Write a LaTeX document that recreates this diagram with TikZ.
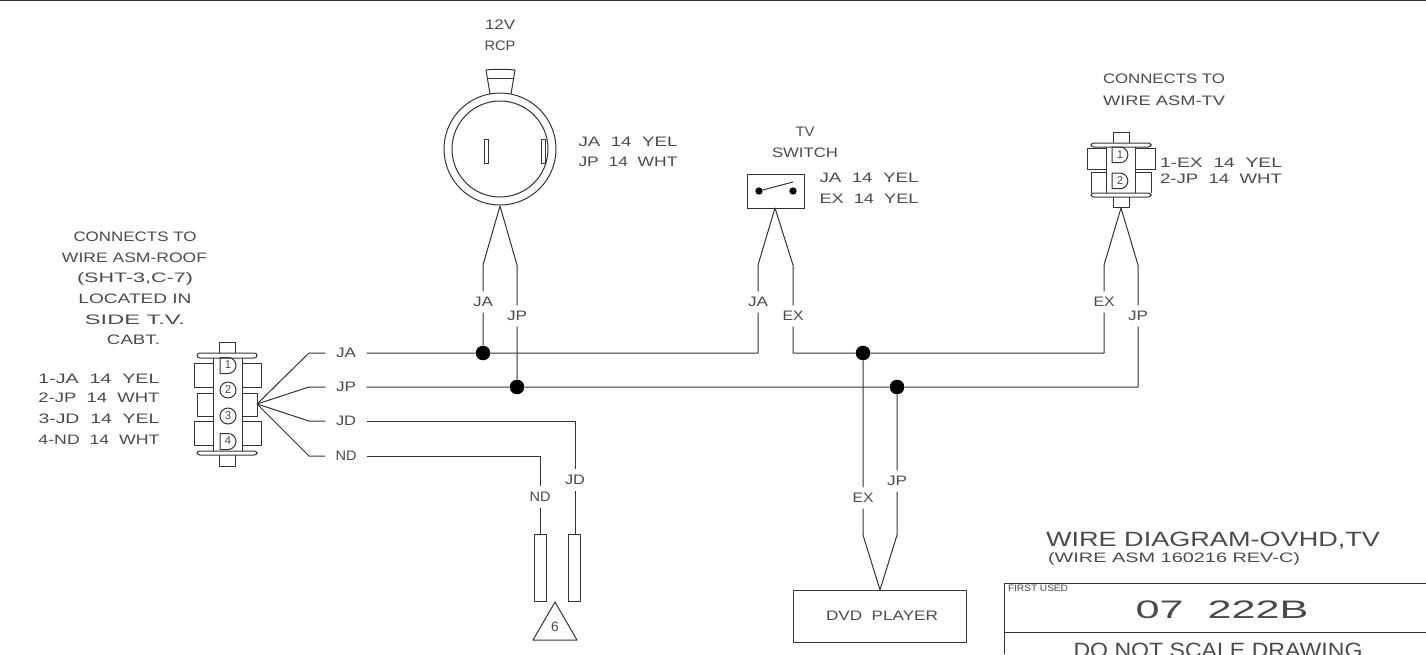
\documentclass[tikz,border=0pt]{standalone}
\usepackage{fontspec}
\usepackage{graphicx}
\setmainfont{Liberation Sans}
\newdimen\pxu \pxu=0.75pt
\newcommand\tw[2]{\resizebox{#1\pxu}{\height}{#2}}
\definecolor{ink}{HTML}{333333}
\definecolor{txt}{HTML}{4a4a4a}
\tikzset{
  wire/.style={draw=ink,line width=0.75pt,line join=round},
  part/.style={draw=ink,line width=0.75pt,line join=round},
  lab/.style={inner sep=0pt,text=txt,font=\fontsize{10.3pt}{12pt}\selectfont,anchor=center},
  wlab/.style={lab,outer xsep=8pt,outer ysep=4.4pt},
  dot/.style={circle,fill=black,draw=black,inner sep=0pt,minimum size=10.5pt},
  pin/.style={circle,draw=ink,line width=0.75pt,inner sep=0pt,minimum size=12pt,text=txt,font=\fontsize{8.5pt}{9pt}\selectfont},
  num/.style={inner sep=0pt,text=txt,font=\fontsize{8.5pt}{9pt}\selectfont},
}
\begin{document}
\begin{tikzpicture}[x=0.75pt,y=-0.75pt]
\useasboundingbox (0,0) rectangle (1426,654);
\clip (0,0) rectangle (1426,654);
\coordinate (tl) at (0,0.8); \coordinate (tr) at (1426,0.8);
\draw[wire] (tl) -- (tr);

% ---- left connector
\draw[part,rounded corners=2pt] (197,353) rectangle (257,358);
\draw[part,rounded corners=2pt] (197,451) rectangle (257,455);
\draw[part] (219,353) -- (219,342) -- (235,342) -- (235,353);
\draw[part] (219,455) -- (219,466) -- (235,466) -- (235,455);
\draw[part] (213,358) -- (213,451);
\draw[part] (242,358) -- (242,451);
\draw[part] (213,363) -- (194,363) -- (194,387) -- (213,387);
\draw[part] (213,393) -- (197,393) -- (197,416) -- (213,416);
\draw[part] (213,421) -- (194,421) -- (194,445) -- (213,445);
\draw[part] (242,363) -- (261,363) -- (261,387) -- (242,387);
\draw[part] (242,393) -- (257,393) -- (257,416) -- (242,416);
\draw[part] (242,421) -- (261,421) -- (261,445) -- (242,445);
\draw[part] (220,357.5) -- (228,357.5) arc[start angle=90,end angle=-90,radius=6pt] -- (220,373.5) -- cycle;
\node[num] (n1) at (228,365) {1};
\node[pin] (p2) at (228,390) {2};
\node[pin] (p3) at (228,416) {3};
\draw[part] (220,433.5) -- (228,433.5) arc[start angle=90,end angle=-90,radius=6pt] -- (220,449.5) -- cycle;
\node[num] (n4) at (228,441) {4};

\coordinate (fan) at (257,404);
\coordinate (ja0) at (309,353);
\coordinate (jp0) at (309,387);
\coordinate (jd0) at (309,421);
\coordinate (nd0) at (309,456);
\node[wlab] (lJA) at (346,353) {\tw{20}{JA}};
\node[wlab] (lJP) at (346,387) {\tw{20}{JP}};
\node[wlab] (lJD) at (346,421) {\tw{20}{JD}};
\node[wlab] (lND) at (346,456) {\tw{21}{ND}};
\draw[wire] (fan) -- (ja0) -- (lJA);
\draw[wire] (fan) -- (jp0) -- (lJP);
\draw[wire] (fan) -- (jd0) -- (lJD);
\draw[wire] (fan) -- (nd0) -- (lND);

% left texts
\node[lab] (c1) at (135,237) {\tw{123}{CONNECTS TO}};
\node[lab] (c2) at (134.5,258) {\tw{145}{WIRE ASM-ROOF}};
\node[lab] (c3) at (135,279) {\tw{116}{(SHT-3,C-7)}};
\node[lab] (c4) at (135,299) {\tw{113}{LOCATED IN}};
\node[lab] (c5) at (135,320) {\tw{100}{SIDE T.V.}};
\node[lab] (c6) at (133.5,340) {\tw{53}{CABT.}};
\node[lab] (t1) at (99,379) {\tw{121}{1-JA\ \ 14\ \ YEL}};
\node[lab] (t2) at (99,398) {\tw{121}{2-JP\ \ 14\ \ WHT}};
\node[lab] (t3) at (99,419) {\tw{121}{3-JD\ \ 14\ \ YEL}};
\node[lab] (t4) at (99,440) {\tw{121}{4-ND\ \ 14\ \ WHT}};

% ---- RCP
\node[circle,draw=ink,line width=0.75pt,minimum size=84pt,inner sep=0pt] (rcp) at (500,149) {};
\node[circle,draw=ink,line width=0.75pt,minimum size=72pt,inner sep=0pt] (rcpi) at (500,149) {};
\draw[part] (490,94) -- (486,70) .. controls (495,69) and (505,69) .. (515,70) -- (511,94);
\draw[part] (488,78) -- (513,78);
\draw[part] (484,139) rectangle (488,163);
\draw[part] (541,139) rectangle (545,163);
\node[lab] (r1) at (500,25) {\tw{30}{12V}};
\node[lab] (r2) at (500,46) {\tw{31}{RCP}};
\node[lab] (r3) at (628,142) {\tw{99}{JA\ \ 14\ \ YEL}};
\node[lab] (r4) at (628,162) {\tw{99}{JP\ \ 14\ \ WHT}};

% ---- TV switch
\node[draw=ink,line width=0.75pt,minimum width=42.75pt,minimum height=25.5pt,inner sep=0pt] (sw) at (775.5,191) {};
\node[circle,fill=black,inner sep=0pt,minimum size=5.5pt] (sa) at (759,191) {};
\node[circle,fill=black,inner sep=0pt,minimum size=5.5pt] (sb) at (793,191) {};
\coordinate (sc) at (793,182);
\draw[part] (sa) -- (sc);
\node[lab] (s1) at (805,132) {\tw{19}{TV}};
\node[lab] (s2) at (805,153) {\tw{66}{SWITCH}};
\node[lab] (s3) at (869,178) {\tw{99}{JA\ \ 14\ \ YEL}};
\node[lab] (s4) at (869,199) {\tw{99}{EX\ \ 14\ \ YEL}};

% ---- right connector
\draw[part,rounded corners=2pt] (1091,143) rectangle (1151,147);
\draw[part,rounded corners=2pt] (1091,193) rectangle (1151,197);
\draw[part] (1113,143) -- (1113,132) -- (1129,132) -- (1129,143);
\draw[part] (1113,197) -- (1113,207) -- (1129,207) -- (1129,197);
\draw[part] (1106,147) -- (1106,193);
\draw[part] (1135,147) -- (1135,193);
\draw[part] (1106,148) -- (1087,148) -- (1087,169) -- (1106,169);
\draw[part] (1106,172) -- (1091,172) -- (1091,193);
\draw[part] (1135,148) -- (1155,148) -- (1155,169) -- (1135,169);
\draw[part] (1135,172) -- (1151,172) -- (1151,193);
\draw[part] (1112,147) -- (1120,147) arc[start angle=90,end angle=-90,radius=5.9pt] -- (1112,162.7) -- cycle;
\node[num] (e1) at (1120,155) {1};
\draw[part] (1112,173) -- (1120,173) arc[start angle=90,end angle=-90,radius=5.9pt] -- (1112,188.7) -- cycle;
\node[num] (e2) at (1120,181) {2};
\node[lab] (x1) at (1221,163) {\tw{122}{1-EX\ \ 14\ \ YEL}};
\node[lab] (x2) at (1221,179) {\tw{122}{2-JP\ \ 14\ \ WHT}};
\node[lab] (x3) at (1164,79) {\tw{122}{CONNECTS TO}};
\node[lab] (x4) at (1164,101) {\tw{122}{WIRE ASM-TV}};

% ---- junctions
\node[dot] (d1) at (483,353) {};
\node[dot] (d2) at (517,387) {};
\node[dot] (d3) at (863,353) {};
\node[dot] (d4) at (897,387) {};

% RCP wires
\coordinate (ra) at (500,206);
\coordinate (ra1) at (483,265);
\coordinate (ra2) at (517,265);
\node[wlab] (wJA1) at (483,302) {\tw{20}{JA}};
\node[wlab] (wJP1) at (517,316) {\tw{20}{JP}};
\draw[wire] (d1) -- (wJA1) -- (ra1) -- (ra) -- (ra2) -- (wJP1) -- (d2);

% switch wires
\coordinate (sw0) at (775,208);
\coordinate (sw1) at (758,265);
\coordinate (sw2) at (793,265);
\coordinate (sw3) at (758,353);
\coordinate (sw4) at (793,353);
\node[wlab] (wJA2) at (758,302) {\tw{20}{JA}};
\node[wlab] (wEX2) at (793,316) {\tw{21}{EX}};
\draw[wire] (lJA) -- (d1) -- (sw3) -- (wJA2) -- (sw1) -- (sw0) -- (sw2) -- (wEX2) -- (sw4) -- (d3);

% right connector wires
\coordinate (rc0) at (1121,208);
\coordinate (rc1) at (1104,265);
\coordinate (rc2) at (1138,265);
\coordinate (rc3) at (1104,353);
\coordinate (rc4) at (1138,387);
\node[wlab] (wEX3) at (1104,302) {\tw{21}{EX}};
\node[wlab] (wJP3) at (1138,316) {\tw{20}{JP}};
\draw[wire] (d3) -- (rc3) -- (wEX3) -- (rc1) -- (rc0) -- (rc2) -- (wJP3) -- (rc4) -- (d4) -- (d2) -- (lJP);

% DVD
\node[draw=ink,line width=0.75pt,minimum width=129.75pt,minimum height=39pt,inner sep=0pt] (dvd) at (879.5,616) {};
\node[lab] (dvdt) at (882,616) {\tw{112}{DVD\ \ PLAYER}};
\coordinate (dv0) at (880,590);
\coordinate (dv1) at (863,535);
\coordinate (dv2) at (897,535);
\node[wlab] (wEX4) at (863,498) {\tw{21}{EX}};
\node[wlab] (wJP4) at (897,481) {\tw{20}{JP}};
\draw[wire] (d3) -- (wEX4) -- (dv1) -- (dv0) -- (dv2) -- (wJP4) -- (d4);

% JD / ND
\node[part,draw,minimum width=9pt,minimum height=50.5pt,inner sep=0pt] (bN) at (540,568) {};
\node[part,draw,minimum width=9pt,minimum height=50.5pt,inner sep=0pt] (bD) at (574.5,568) {};
\coordinate (jd1) at (575,421);
\coordinate (nd1) at (540,456);
\node[wlab] (wJD) at (575,480) {\tw{20}{JD}};
\node[wlab] (wND) at (540,497) {\tw{21}{ND}};
\draw[wire] (lJD) -- (jd1) -- (wJD) -- (bD.north -| wJD);
\draw[wire] (lND) -- (nd1) -- (wND) -- (bN.north -| wND);
\coordinate (g1) at (555,602);
\coordinate (g2) at (533,640);
\coordinate (g3) at (577,640);
\draw[part] (g1) -- (g2) -- (g3) -- cycle;
\node[num,font=\fontsize{10.3pt}{12pt}\selectfont] (g6) at (555,627) {6};

% title block
\node[lab,font=\fontsize{15.5pt}{17pt}\selectfont] (ti1) at (1213,541) {\tw{334}{WIRE DIAGRAM-OVHD,TV}};
\node[lab] (ti2) at (1174,559) {\tw{252}{(WIRE ASM 160216 REV-C)}};
\coordinate (b1) at (1004,654); \coordinate (b2) at (1004,583); \coordinate (b3) at (1426,583);
\coordinate (b4) at (1004,632); \coordinate (b5) at (1426,632);
\draw[wire] (b1) -- (b2) -- (b3);
\draw[wire] (b4) -- (b5);
\node[lab,font=\fontsize{7pt}{8pt}\selectfont] (fu) at (1038,588) {\tw{60}{FIRST USED}};
\node[lab,font=\fontsize{19pt}{21pt}\selectfont] (num) at (1222,610) {\tw{173}{07\ \ 222B}};
\node[lab,font=\fontsize{15.5pt}{17pt}\selectfont] (dns) at (1218,650) {\tw{289}{DO NOT SCALE DRAWING}};
\end{tikzpicture}
\end{document}
